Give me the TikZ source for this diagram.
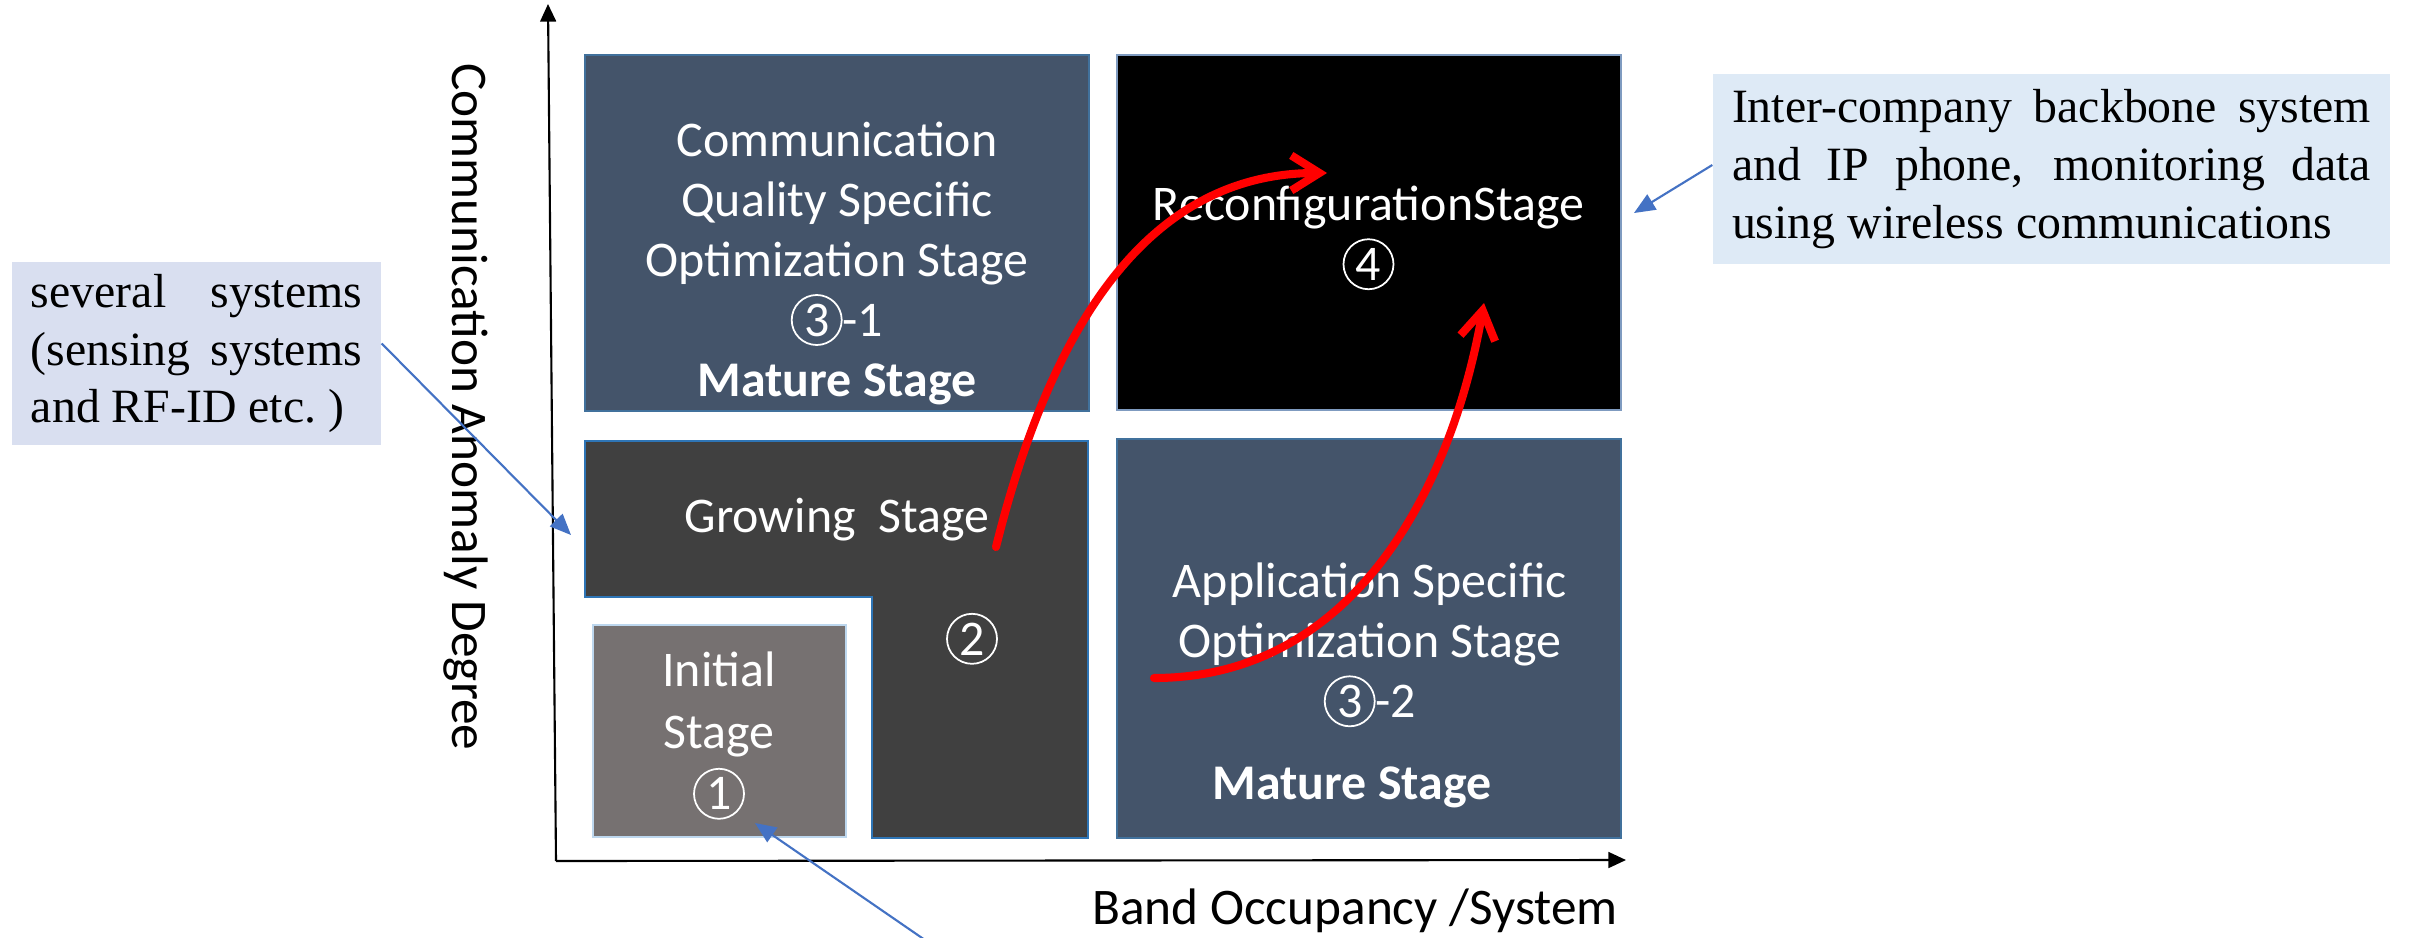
\documentclass[tikz,border=0pt]{standalone}
\usepackage{fontspec}
\setmainfont{Liberation Serif}
\newfontfamily\calibri{Carlito}
\usepackage{tikz}
\usetikzlibrary{arrows.meta, positioning}

\definecolor{slate}{HTML}{44546A}
\definecolor{boxedge}{HTML}{41719C}
\definecolor{boxedgelight}{HTML}{7F9BC0}
\definecolor{growfill}{HTML}{404040}
\definecolor{growedge}{HTML}{2E75B6}
\definecolor{initfill}{HTML}{767171}
\definecolor{initedge}{HTML}{BDD7EE}
\definecolor{calloutleft}{HTML}{D9DFF0}
\definecolor{calloutright}{HTML}{DEEAF6}
\definecolor{pointblue}{HTML}{4472C4}

% thin white ring round a stage number
\newcommand\circnum[1]{\smash{\tikz[baseline=(d.base)]\node[circle, draw=white, text=white, line width=0.5pt, inner sep=0pt, minimum size=0.5cm] (d) {#1};}}

\begin{document}
\begin{tikzpicture}[
  stagebox/.style={draw=boxedge, line width=0.5pt, fill=slate, minimum width=5.04cm, inner sep=0pt},
  stagetext/.style={text=white, font=\calibri\fontsize{14.2}{17.07}\selectfont, align=center},
  callout/.style={font=\fontsize{13.6}{16.4}\selectfont, align=justify, inner xsep=0.19cm},
  pointer/.style={draw=pointblue, line width=0.6pt, -{Triangle[length=6pt,width=5pt]}},
  stagearrow/.style={draw=red, line width=2.3pt, line cap=round, -{Straight Barb[length=8pt,width=10pt]}}
]
  % Stage map: band occupancy against anomaly degree
  \fill[white] (0,0) rectangle (24.10,9.37);
  \useasboundingbox (0,0) rectangle (24.10,9.37);

  % axes
  \coordinate (origin) at (5.56,0.76);
  \coordinate (ytip) at (5.48,9.33);
  \coordinate (xtip) at (16.26,0.77);
  \draw[line width=0.6pt, -{Triangle[length=5pt,width=4.5pt]}] (origin) -- (ytip);
  \draw[line width=0.6pt, -{Triangle[length=5pt,width=4.5pt]}] (origin) -- (xtip);
  \node[rotate=-90, font=\calibri\fontsize{14.6}{17}\selectfont] (ylab) at (4.66,5.30) {Communication Anomaly Degree};
  \node[font=\calibri\fontsize{14.6}{17}\selectfont] (xlab) at (13.55,0.26) {Band Occupancy /System};

  % stage boxes
  \node[stagebox, minimum height=3.56cm] (comm) at (8.37,7.04) {};
  \node[stagebox, fill=black, draw=boxedgelight, minimum height=3.55cm] (reconf) at (13.69,7.045) {};
  \node[stagebox, minimum height=3.99cm] (appl) at (13.69,2.985) {};
  \draw[draw=growedge, fill=growfill, line width=0.6pt] (5.85,4.96) -- (10.88,4.96) -- (10.88,0.99)
    -- (8.72,0.99) -- (8.72,3.40) -- (5.85,3.40) -- cycle;
  \node[draw=initedge, fill=initfill, line width=0.8pt, minimum width=2.53cm, minimum height=2.12cm, inner sep=0pt] (init) at (7.195,2.06) {};

  \node[stagetext] (commtext) at (8.37,6.74) {Communication\\Quality Specific\\Optimization Stage\\\circnum{3}-1\\\textbf{Mature Stage}};
  \node[stagetext] (reconftext) at (13.685,7.04) {ReconfigurationStage\\\circnum{4}};
  \node[stagetext] (appltext) at (13.70,2.97) {Application Specific\\Optimization Stage\\\circnum{3}-2};
  \node[stagetext, font=\calibri\bfseries\fontsize{14.2}{17}\selectfont] (applmature) at (13.52,1.50) {Mature Stage};
  \node[stagetext] (growtext) at (8.37,4.17) {Growing\ \ Stage};
  \node[stagetext] (grownum) at (9.72,2.82) {\circnum{2}};
  \node[stagetext, font=\calibri\fontsize{14.2}{17.5}\selectfont] (inittext) at (7.19,2.06) {Initial\\Stage\\\circnum{1}};

  % transitions
  \coordinate (growstart) at (9.96,3.90);
  \coordinate (reconfend) at (13.27,7.64);
  \coordinate (applstart) at (11.54,2.59);
  \coordinate (reconfend2) at (14.84,6.34);
  \draw[stagearrow] (growstart) to[out=76, in=180] (reconfend);
  \draw[stagearrow] (applstart) to[out=0, in=-100] (reconfend2);

  % callouts
  \node[callout, fill=calloutleft, text width=3.31cm, minimum height=1.79cm] (several) at (1.965,5.835)
    {several systems\linebreak (sensing systems\linebreak and RF-ID etc.\ )};
  \node[callout, fill=calloutright, text width=6.39cm, minimum height=1.90cm] (backbone) at (20.515,7.68)
    {Inter-company backbone system\linebreak and IP phone, monitoring data\linebreak using wireless communications};
  \coordinate (growtip) at (5.71,4.02);
  \coordinate (reconftip) at (16.34,7.24);
  \coordinate (caption) at (9.25,-0.03);
  \coordinate (inittip) at (7.55,1.14);
  \draw[pointer] ([yshift=1mm]several.east) -- (growtip);
  \draw[pointer] ([yshift=0.4mm]backbone.west) -- (reconftip);
  \draw[pointer] (caption) -- (inittip);
\end{tikzpicture}
\end{document}
